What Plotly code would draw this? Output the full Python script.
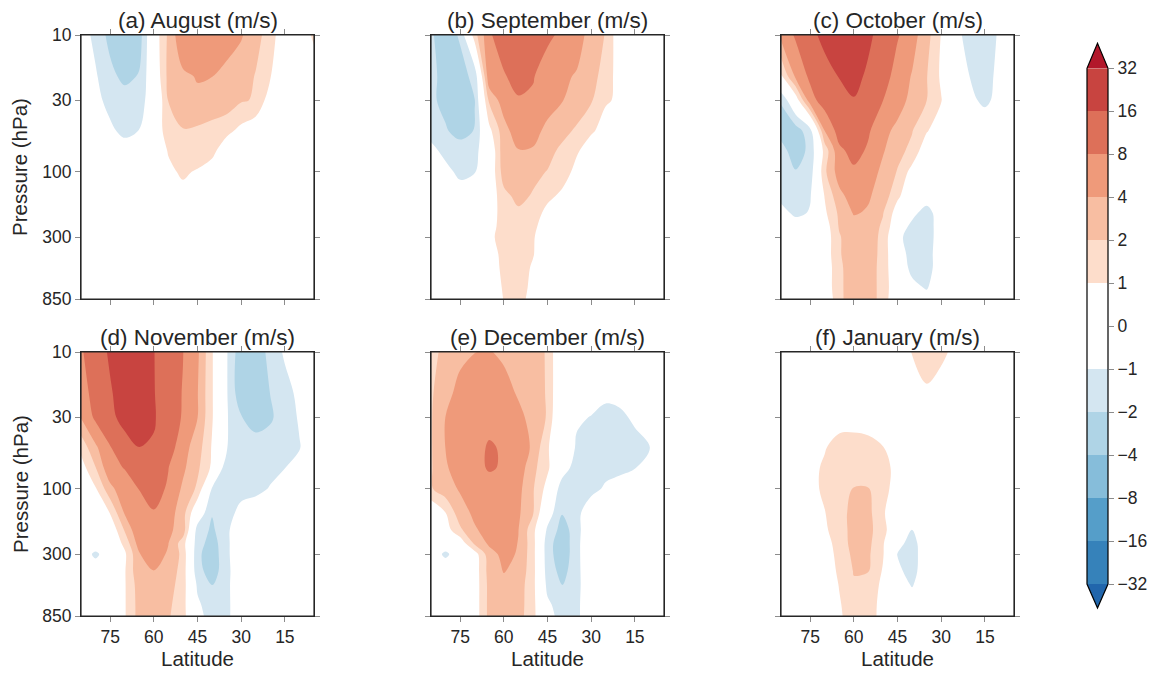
import math
import numpy as np
import plotly.graph_objects as go

# ---------------- data (m/s), rows = pressure levels, columns = latitudes ----------------
LATITUDES = [85, 80, 75, 70, 65, 60, 55, 50, 45, 40, 35, 30, 25, 20, 15, 10, 5]
PRESSURE_LEVELS = [10, 20, 30, 50, 70, 100, 150, 200, 250, 300, 400, 500, 700, 850]

LEVELS = [-32, -16, -8, -4, -2, -1, 0, 1, 2, 4, 8, 16, 32]
LEVEL_LABELS = ["\u221232", "\u221216", "\u22128", "\u22124", "\u22122", "\u22121", "0",
                "1", "2", "4", "8", "16", "32"]
LAT_TICKS = [75, 60, 45, 30, 15]
LAT_TICK_LABELS = ["75", "60", "45", "30", "15"]
P_TICKS = [10, 30, 100, 300, 850]
P_TICK_LABELS = ["10", "30", "100", "300", "850"]
PANEL_TITLES = ["(a) August (m/s)", "(b) September (m/s)", "(c) October (m/s)",
                "(d) November (m/s)", "(e) December (m/s)", "(f) January (m/s)"]

august = [
    [-0.5, -1.28, -2.68, -3.2, -2.96, 0.26, 2.4, 7.6, 7.6, 7.4, 6.0, 4.4, 2.6, 1.6, 0.0, 0.3, 1.2],
    [-0.3, -0.89, -1.7, -2.6, -1.92, 0.0, 2.58, 3.6, 4.3, 4.05, 3.4, 2.8, 1.95, 1.05, 0.2, 0.1, 0.4],
    [-0.2, -0.7, -1.33, -1.5, -1.4, -0.4, 2.05, 3.2, 3.6, 3.5, 3.2, 2.2, 1.91, 0.39, 0.1, 0.0, 0.1],
    [-0.1, -0.4, -0.8, -1.28, -0.98, -0.1, 1.73, 1.95, 1.85, 1.6, 1.3, 0.7, 0.2, 0.0, 0.0, 0.0, 0.0],
    [0.0, -0.2, -0.4, -0.5, -0.3, 0.2, 1.07, 1.5, 1.6, 1.3, 0.3, 0.1, 0.0, 0.0, 0.0, 0.0, 0.0],
    [0.0, -0.1, -0.2, -0.2, 0.0, 0.4, 0.8, 1.15, 0.9, 0.5, 0.2, 0.0, 0.0, 0.0, 0.0, 0.0, 0.0],
    [0.0, 0.0, -0.1, -0.1, 0.0, 0.2, 0.5, 0.7, 0.5, 0.3, 0.1, 0.0, 0.0, 0.0, 0.0, 0.0, 0.0],
    [0.0, 0.0, 0.0, 0.0, 0.0, 0.1, 0.3, 0.4, 0.3, 0.2, 0.1, 0.0, 0.0, 0.0, 0.0, 0.0, 0.0],
    [0.0, 0.0, 0.0, 0.0, 0.0, 0.1, 0.2, 0.3, 0.2, 0.1, 0.0, 0.0, 0.0, 0.0, 0.0, 0.0, 0.0],
    [0.0, 0.0, 0.0, 0.0, 0.0, 0.1, 0.2, 0.2, 0.2, 0.1, 0.0, 0.0, 0.0, 0.0, 0.0, 0.0, 0.0],
    [0.0, 0.0, 0.0, 0.0, 0.0, 0.1, 0.1, 0.2, 0.1, 0.0, 0.0, 0.0, 0.0, 0.0, 0.0, 0.0, 0.0],
    [0.0, 0.0, 0.0, 0.0, 0.0, 0.0, 0.1, 0.1, 0.1, 0.0, 0.0, 0.0, 0.0, 0.0, 0.0, 0.0, 0.0],
    [0.0, 0.0, 0.0, 0.0, 0.0, 0.0, 0.0, 0.1, 0.0, 0.0, 0.0, 0.0, 0.0, 0.0, 0.0, 0.0, 0.0],
    [0.0, 0.0, 0.0, 0.0, 0.0, 0.0, 0.0, 0.0, 0.0, 0.0, 0.0, 0.0, 0.0, 0.0, 0.0, 0.0, 0.0],
]

september = [
    [-1.9, -2.8, -1.9, 1.6, 7.4, 12.8, 14.8, 14.4, 10.4, 6.8, 5.6, 3.32, 1.93, 0.14, 0.0, 0.0, 0.0],
    [-1.7, -2.8, -2.6, -1.78, 7.2, 7.6, 11.2, 8.8, 5.08, 4.6, 3.86, 3.2, 1.3, 0.7, 0.1, 0.0, 0.0],
    [-1.8, -2.6, -2.8, -2.04, 2.4, 6.12, 7.6, 7.2, 6.0, 4.12, 3.6, 2.2, 1.1, 0.85, 0.2, 0.05, 0.0],
    [-1.4, -1.9, -2.8, -1.95, 0.69, 3.2, 6.4, 5.6, 3.42, 2.8, 1.81, 1.15, 0.6, 0.3, 0.1, 0.0, 0.0],
    [-0.7, -1.3, -1.5, -1.3, -0.15, 3.4, 3.9, 3.8, 2.8, 1.73, 1.15, 0.4, 0.15, 0.0, 0.0, 0.0, 0.0],
    [-0.3, -0.7, -1.25, -1.05, 0.0, 3.0, 3.2, 2.6, 1.95, 1.6, 0.63, 0.3, 0.1, 0.0, 0.0, 0.0, 0.0],
    [-0.1, -0.3, -0.5, -0.3, 0.2, 1.7, 2.6, 1.9, 1.3, 0.75, 0.3, 0.1, 0.0, 0.0, 0.0, 0.0, 0.0],
    [0.0, -0.1, -0.3, -0.2, 0.5, 1.4, 1.8, 1.6, 0.63, 0.3, 0.1, 0.0, 0.0, 0.0, 0.0, 0.0, 0.0],
    [0.0, 0.0, -0.1, 0.0, 0.5, 1.5, 1.7, 1.3, 0.3, 0.1, 0.0, 0.0, 0.0, 0.0, 0.0, 0.0, 0.0],
    [0.0, 0.0, 0.0, 0.0, 0.7, 1.5, 1.6, 1.1, 0.3, 0.1, 0.0, 0.0, 0.0, 0.0, 0.0, 0.0, 0.0],
    [0.0, 0.0, 0.0, 0.0, 0.5, 1.3, 1.5, 1.05, 0.4, 0.1, 0.0, 0.0, 0.0, 0.0, 0.0, 0.0, 0.0],
    [0.0, 0.0, 0.0, 0.0, 0.3, 1.3, 1.4, 0.9, 0.2, 0.0, 0.0, 0.0, 0.0, 0.0, 0.0, 0.0, 0.0],
    [0.0, 0.0, 0.0, 0.0, 0.1, 1.15, 1.35, 0.8, 0.1, 0.0, 0.0, 0.0, 0.0, 0.0, 0.0, 0.0, 0.0],
    [0.0, 0.0, 0.0, 0.0, 0.0, 1.05, 1.3, 0.7, 0.1, 0.0, 0.0, 0.0, 0.0, 0.0, 0.0, 0.0, 0.0],
]

october = [
    [5.2, 9.04, 13.6, 20.8, 25.6, 27.2, 19.2, 12.64, 8.8, 5.56, 2.82, 0.95, -0.5, -1.7, -1.6, -0.85, -0.2],
    [0.9, 4.8, 9.6, 12.8, 16.5, 20.8, 14.6, 12.0, 6.16, 3.88, 2.1, 0.83, 0.0, -1.05, -1.6, -0.57, -0.1],
    [-1.95, 0.3, 6.4, 12.0, 14.4, 15.6, 15.2, 8.05, 6.4, 3.2, 2.02, 1.05, 0.0, -0.7, -1.3, -0.55, -0.1],
    [-2.6, -3.0, -1.4, 4.08, 11.44, 12.8, 8.8, 5.6, 3.32, 2.1, 1.1, 0.3, 0.1, 0.0, 0.0, 0.0, 0.0],
    [-1.7, -2.8, -1.8, 1.4, 7.2, 10.4, 7.52, 4.4, 2.54, 1.77, 0.2, 0.0, 0.0, 0.0, 0.0, 0.0, 0.0],
    [-1.5, -1.95, -1.6, 1.8, 6.0, 7.4, 6.4, 3.44, 1.94, 0.6, 0.1, 0.0, 0.0, 0.0, 0.0, 0.0, 0.0],
    [-1.4, -1.4, -1.1, 1.05, 3.4, 5.96, 4.4, 3.2, 1.2, 0.2, 0.0, 0.0, 0.0, 0.0, 0.0, 0.0, 0.0],
    [-0.5, -1.3, -0.9, 0.8, 2.4, 4.32, 3.8, 2.1, 0.46, -0.5, -1.75, 0.04, 0.0, 0.0, 0.0, 0.0, 0.0],
    [0.0, -0.3, -0.2, 0.4, 2.2, 3.2, 3.0, 1.86, 0.1, -1.43, -1.7, -0.24, 0.0, 0.0, 0.0, 0.0, 0.0],
    [0.0, 0.0, -0.1, 0.3, 1.9, 3.4, 3.0, 1.74, -0.4, -1.98, -1.8, -0.13, 0.0, 0.0, 0.0, 0.0, 0.0],
    [0.0, 0.0, 0.0, 0.3, 1.9, 3.2, 2.9, 1.72, -0.3, -1.47, -1.7, -0.03, 0.0, 0.0, 0.0, 0.0, 0.0],
    [0.0, 0.0, 0.0, 0.2, 1.8, 3.1, 2.8, 1.7, -0.2, -1.3, -1.6, -0.17, 0.0, 0.0, 0.0, 0.0, 0.0],
    [0.0, 0.0, 0.0, 0.2, 1.8, 3.0, 2.8, 1.7, 0.0, -0.7, -1.1, -0.2, 0.0, 0.0, 0.0, 0.0, 0.0],
    [0.0, 0.0, 0.0, 0.0, 1.75, 3.2, 2.8, 1.7, -0.2, -0.5, -0.6, -0.2, 0.0, 0.0, 0.0, 0.0, 0.0],
]

november = [
    [7.6, 12.0, 18.24, 24.0, 25.6, 16.32, 12.8, 8.16, 4.8, 1.1, -0.9, -3.4, -3.2, -1.69, -0.83, -0.2, 0.0],
    [6.0, 11.44, 15.2, 23.36, 25.6, 16.8, 11.2, 7.84, 4.2, 1.1, -0.9, -3.46, -3.4, -1.98, -1.4, -0.73, -0.1],
    [4.2, 9.68, 13.6, 22.56, 24.8, 16.8, 13.6, 7.56, 4.08, 1.1, -0.9, -1.95, -2.8, -2.3, -1.47, -0.9, -0.4],
    [1.3, 3.64, 7.8, 12.0, 15.9, 15.6, 12.0, 5.6, 2.98, 0.9, -0.95, -1.5, -1.6, -1.5, -1.5, -1.05, -0.5],
    [0.5, 1.97, 7.2, 8.24, 12.0, 12.8, 8.16, 4.8, 2.4, 0.8, -1.7, -1.7, -1.6, -1.4, -1.02, -0.6, -0.2],
    [0.0, 0.9, 3.4, 6.8, 8.16, 10.4, 7.6, 3.66, 1.82, -1.1, -1.7, -1.6, -1.4, -0.9, -0.4, -0.2, 0.0],
    [-0.1, 0.0, 1.05, 4.4, 6.4, 7.8, 6.0, 2.82, -0.1, -1.95, -1.7, -0.45, -0.1, 0.0, 0.0, 0.0, 0.0],
    [0.0, -0.1, 0.1, 2.2, 7.6, 6.8, 4.8, 3.14, -1.48, -2.3, -1.4, 0.5, 0.1, 0.0, 0.0, 0.0, 0.0],
    [0.0, -0.4, -0.1, 1.31, 5.88, 6.8, 4.08, 1.5, -1.6, -2.8, -1.4, 0.5, 0.1, 0.0, 0.0, 0.0, 0.0],
    [-0.4, -1.2, -0.4, 0.8, 3.9, 5.6, 3.8, 1.7, -1.8, -3.0, -1.4, 0.5, 0.1, 0.0, 0.0, 0.0, 0.0],
    [-0.2, -0.4, -0.2, 0.9, 3.6, 3.96, 3.2, 1.6, -1.7, -2.8, -1.5, 0.4, 0.1, 0.0, 0.0, 0.0, 0.0],
    [0.0, 0.0, -0.1, 0.9, 3.0, 3.4, 2.8, 1.53, -1.2, -2.1, -1.4, 0.3, 0.0, 0.0, 0.0, 0.0, 0.0],
    [0.0, 0.0, -0.1, 0.9, 2.8, 3.2, 2.4, 1.4, -0.8, -1.6, -1.4, 0.2, 0.0, 0.0, 0.0, 0.0, 0.0],
    [0.0, 0.0, 0.0, 0.9, 2.8, 3.2, 2.2, 1.4, -0.6, -1.5, -1.4, 0.2, 0.0, 0.0, 0.0, 0.0, 0.0],
]

december = [
    [1.5, 2.92, 3.2, 3.96, 4.4, 3.4, 3.2, 2.8, 1.9, -0.47, -0.2, 0.0, 0.0, 0.0, 0.0, 0.0, 0.0],
    [1.9, 3.0, 6.0, 6.8, 7.0, 6.4, 3.66, 2.8, 1.92, -0.5, -0.3, -0.4, -0.7, -0.5, -0.2, 0.0, 0.0],
    [1.9, 4.08, 6.4, 7.2, 7.4, 7.2, 5.6, 2.98, 1.93, -0.8, -0.8, -1.05, -1.4, -1.3, -0.74, -0.3, 0.0],
    [1.9, 4.08, 6.4, 7.4, 8.4, 7.8, 6.0, 3.72, 1.05, 0.55, -1.2, -1.7, -1.8, -1.7, -1.5, -1.02, -0.4],
    [1.9, 3.7, 6.4, 7.4, 8.4, 7.8, 6.4, 2.6, 1.2, -0.4, -1.5, -1.7, -1.7, -1.4, -1.05, -0.5, -0.1],
    [1.9, 3.2, 4.4, 6.4, 7.2, 6.8, 5.2, 2.2, 0.6, -1.6, -1.8, -1.7, -0.67, -0.3, -0.1, 0.0, 0.0],
    [0.0, 0.98, 3.2, 4.76, 6.4, 6.4, 4.6, 2.2, -0.4, -1.95, -1.7, 0.6, 0.1, 0.0, 0.0, 0.0, 0.0],
    [0.0, 0.5, 1.8, 3.8, 5.28, 6.0, 4.08, 1.37, -1.2, -2.8, -1.57, 0.4, 0.1, 0.0, 0.0, 0.0, 0.0],
    [0.0, -0.4, 0.3, 2.4, 4.72, 5.6, 3.94, 1.41, -1.6, -3.2, -1.45, 0.4, 0.1, 0.0, 0.0, 0.0, 0.0],
    [-0.4, -1.2, -0.4, 0.5, 3.2, 5.2, 3.82, 1.39, -1.6, -3.2, -1.45, 0.4, 0.1, 0.0, 0.0, 0.0, 0.0],
    [-0.2, -0.3, -0.2, 0.4, 2.8, 4.2, 3.4, 1.4, -1.5, -2.6, -1.5, 0.4, 0.0, 0.0, 0.0, 0.0, 0.0],
    [0.0, 0.0, 0.0, 0.4, 2.6, 3.4, 3.0, 1.35, -1.3, -2.1, -1.5, 0.3, 0.0, 0.0, 0.0, 0.0, 0.0],
    [0.0, 0.0, 0.0, 0.4, 2.6, 3.2, 2.9, 1.35, -0.8, -1.5, -1.4, 0.3, 0.0, 0.0, 0.0, 0.0, 0.0],
    [0.0, 0.0, 0.0, 0.4, 2.6, 3.2, 2.8, 1.35, -0.6, -1.4, -1.4, 0.3, 0.0, 0.0, 0.0, 0.0, 0.0],
]

january = [
    [0.0, 0.0, 0.0, 0.0, 0.0, 0.0, 0.1, 0.2, 0.3, 1.05, 1.5, 1.2, 0.77, 0.3, 0.0, 0.0, 0.0],
    [0.0, 0.0, 0.0, 0.0, 0.0, 0.0, 0.0, 0.1, 0.2, 0.5, 0.85, 0.6, 0.3, 0.1, 0.0, 0.0, 0.0],
    [0.0, 0.0, 0.0, 0.1, 0.3, 0.5, 0.4, 0.2, 0.1, 0.1, 0.2, 0.1, 0.0, 0.0, 0.0, 0.0, 0.0],
    [0.0, 0.0, 0.2, 0.9, 1.61, 1.5, 1.4, 1.05, 0.2, 0.1, 0.0, 0.0, 0.0, 0.0, 0.0, 0.0, 0.0],
    [0.0, 0.2, 0.6, 1.2, 1.6, 1.7, 1.6, 1.35, 0.68, 0.2, 0.0, 0.0, 0.0, 0.0, 0.0, 0.0, 0.0],
    [0.0, 0.3, 0.5, 1.3, 1.7, 2.06, 2.06, 1.5, 0.36, 0.1, 0.0, 0.0, 0.0, 0.0, 0.0, 0.0, 0.0],
    [0.0, 0.1, 0.4, 0.95, 1.6, 2.68, 2.5, 1.21, -0.29, -0.5, 0.0, 0.0, 0.0, 0.0, 0.0, 0.0, 0.0],
    [0.0, 0.1, 0.3, 0.85, 1.48, 2.8, 2.6, 1.36, 0.0, -1.05, -0.2, 0.0, 0.0, 0.0, 0.0, 0.0, 0.0],
    [0.0, 0.0, 0.2, 0.6, 1.4, 2.8, 2.5, 1.1, -0.4, -1.7, 0.24, 0.0, 0.0, 0.0, 0.0, 0.0, 0.0],
    [0.0, 0.0, 0.2, 0.5, 1.3, 2.5, 2.3, 1.1, -1.05, -1.7, 0.05, 0.0, 0.0, 0.0, 0.0, 0.0, 0.0],
    [0.0, 0.0, 0.1, 0.3, 1.2, 2.1, 2.04, 0.9, -0.7, -1.5, -0.1, 0.0, 0.0, 0.0, 0.0, 0.0, 0.0],
    [0.0, 0.0, 0.0, 0.2, 1.05, 1.9, 1.8, 0.7, -0.4, -1.1, -0.2, 0.0, 0.0, 0.0, 0.0, 0.0, 0.0],
    [0.0, 0.0, 0.0, 0.1, 0.9, 1.6, 1.55, 0.6, 0.0, -0.4, 0.0, 0.0, 0.0, 0.0, 0.0, 0.0, 0.0],
    [0.0, 0.0, 0.0, 0.0, 0.85, 1.5, 1.5, 0.6, 0.0, -0.3, 0.0, 0.0, 0.0, 0.0, 0.0, 0.0, 0.0],
]

PANELS = [august, september, october, november, december, january]

# ---------------- style ----------------
BAND_COLORS = ["#3682ba", "#559ec9", "#86bdda", "#afd4e6", "#d4e6f1", "#ffffff",
               "#ffffff", "#fdddcb", "#f8bea2", "#ef9a7a", "#dd7059", "#c84440"]
UNDER_COLOR = "#2166ac"
OVER_COLOR = "#b2182b"
BACKGROUND = "#ffffff"
TEXT = "#262626"
FRAME = "#262626"
TICK = "#8c8c8c"
FONT = "Liberation Sans, Arial, sans-serif"

W, H = 1170, 677
COL_X0 = [81, 431, 781]
ROW_Y0 = [35, 352]
PANEL_W = 233
PANEL_H = 264


def fx(px):
    return px / W


def fy(py):
    return 1 - py / H


n_bands = len(BAND_COLORS)
n_levels = len(LEVELS)
# colour bar: one stop per band
cbar_colorscale = [[j / (n_bands - 1), c] for j, c in enumerate(BAND_COLORS)]
# contour fill: levels 0..12 -> colour for "below -32" (background), the 12 bands, "above 32"
contour_colors = [BACKGROUND] + BAND_COLORS + [OVER_COLOR]
contour_colorscale = [[j / (len(contour_colors) - 1), c] for j, c in enumerate(contour_colors)]


def level_index(values):
    # position of each value on the (non-uniform) colour-level scale
    return np.interp(np.asarray(values, dtype=float), LEVELS, np.arange(n_levels))


fig = go.Figure()
layout = dict(
    width=W, height=H, autosize=False, margin=dict(l=0, r=0, t=0, b=0, pad=0, autoexpand=False),
    paper_bgcolor="white", plot_bgcolor="white", showlegend=False,
    font=dict(family=FONT, color=TEXT),
)
annotations = []
shapes = []

for i, data in enumerate(PANELS):
    r, c = divmod(i, 3)
    n = "" if i == 0 else str(i + 1)
    x0 = COL_X0[c]
    y0 = ROW_Y0[r]
    fig.add_trace(go.Contour(
        x=LATITUDES, y=PRESSURE_LEVELS, z=level_index(data),
        xaxis="x" + n, yaxis="y" + n,
        autocontour=False,
        contours=dict(start=0, end=n_levels - 1, size=1, coloring="fill", showlines=False),
        colorscale=contour_colorscale, showscale=False,
        line=dict(width=0, smoothing=1.0),
        hoverinfo="skip",
    ))
    layout["xaxis" + n] = dict(
        domain=[fx(x0), fx(x0 + PANEL_W)], anchor="y" + n, automargin=False,
        range=[85, 5], tickmode="array", tickvals=LAT_TICKS, ticktext=LAT_TICK_LABELS,
        showticklabels=(r == 1), ticks="outside", ticklen=5, tickwidth=1, tickcolor=TICK,
        showline=True, linecolor=FRAME, linewidth=1, mirror="ticks",
        showgrid=False, zeroline=False,
        tickfont=dict(size=17.5, color=TEXT, family=FONT),
    )
    layout["yaxis" + n] = dict(
        domain=[fy(y0 + PANEL_H), fy(y0)], anchor="x" + n, automargin=False,
        type="log", range=[math.log10(850), 1],
        tickmode="array", tickvals=P_TICKS, ticktext=P_TICK_LABELS,
        showticklabels=(c == 0), ticks="outside", ticklen=5, tickwidth=1, tickcolor=TICK,
        showline=True, linecolor=FRAME, linewidth=1, mirror="ticks",
        showgrid=False, zeroline=False,
        tickfont=dict(size=17.5, color=TEXT, family=FONT),
    )
    # panel frame drawn on top so the edges of the filled contours stay crisp
    shapes.append(dict(
        type="rect", xref="paper", yref="paper",
        x0=fx(x0), x1=fx(x0 + PANEL_W), y0=fy(y0 + PANEL_H), y1=fy(y0),
        line=dict(color=FRAME, width=1.2), fillcolor="rgba(0,0,0,0)", layer="above",
    ))
    annotations.append(dict(
        text=PANEL_TITLES[i], xref="paper", yref="paper",
        x=fx(x0 + PANEL_W / 2), y=fy(y0 - 14.5), xanchor="center", yanchor="middle",
        showarrow=False, font=dict(size=22.5, color=TEXT, family=FONT),
    ))
    if c == 0:
        annotations.append(dict(
            text="Pressure (hPa)", xref="paper", yref="paper",
            x=fx(20), y=fy(y0 + PANEL_H / 2), xanchor="center", yanchor="middle",
            textangle=-90, showarrow=False, font=dict(size=20.5, color=TEXT, family=FONT),
        ))
    if r == 1:
        annotations.append(dict(
            text="Latitude", xref="paper", yref="paper",
            x=fx(x0 + PANEL_W / 2), y=fy(658), xanchor="center", yanchor="middle",
            showarrow=False, font=dict(size=20.5, color=TEXT, family=FONT),
        ))

# ---------------- colour bar ----------------
CB_X0, CB_X1 = 1087, 1108
CB_TOP, CB_BOT = 68.3, 584.0
CB_TIP_TOP, CB_TIP_BOT = 43.3, 608.0
band_index = list(range(n_bands))
fig.add_trace(go.Heatmap(
    x=[0], y=[b + 0.5 for b in band_index], z=[[b] for b in band_index],
    colorscale=cbar_colorscale, zmin=0, zmax=n_bands - 1, showscale=False,
    xaxis="x7", yaxis="y7", hoverinfo="skip",
))
layout["xaxis7"] = dict(domain=[fx(CB_X0), fx(CB_X1)], anchor="y7", range=[-0.5, 0.5],
                        visible=False, automargin=False)
layout["yaxis7"] = dict(
    domain=[fy(CB_BOT), fy(CB_TOP)], anchor="x7", range=[0, n_levels - 1], side="right",
    automargin=False,
    tickmode="array", tickvals=list(range(n_levels)), ticktext=LEVEL_LABELS,
    ticks="outside", ticklen=5, tickwidth=1, tickcolor=TICK,
    showline=False, showgrid=False, zeroline=False,
    tickfont=dict(size=17.5, color=TEXT, family=FONT),
)
xm = (CB_X0 + CB_X1) / 2
shapes += [
    dict(type="path", xref="paper", yref="paper",
         path=f"M {fx(CB_X0)},{fy(CB_TOP)} L {fx(CB_X1)},{fy(CB_TOP)} L {fx(xm)},{fy(CB_TIP_TOP)} Z",
         fillcolor=OVER_COLOR, line=dict(width=0)),
    dict(type="path", xref="paper", yref="paper",
         path=f"M {fx(CB_X0)},{fy(CB_BOT)} L {fx(CB_X1)},{fy(CB_BOT)} L {fx(xm)},{fy(CB_TIP_BOT)} Z",
         fillcolor=UNDER_COLOR, line=dict(width=0)),
    dict(type="path", xref="paper", yref="paper",
         path=(f"M {fx(CB_X0)},{fy(CB_BOT)} L {fx(CB_X0)},{fy(CB_TOP)} L {fx(xm)},{fy(CB_TIP_TOP)} "
               f"L {fx(CB_X1)},{fy(CB_TOP)} L {fx(CB_X1)},{fy(CB_BOT)} L {fx(xm)},{fy(CB_TIP_BOT)} Z"),
         fillcolor="rgba(0,0,0,0)", line=dict(color="#000000", width=1.2)),
]

layout["annotations"] = annotations
layout["shapes"] = shapes
fig.update_layout(**layout)
fig.write_html("out.html")
